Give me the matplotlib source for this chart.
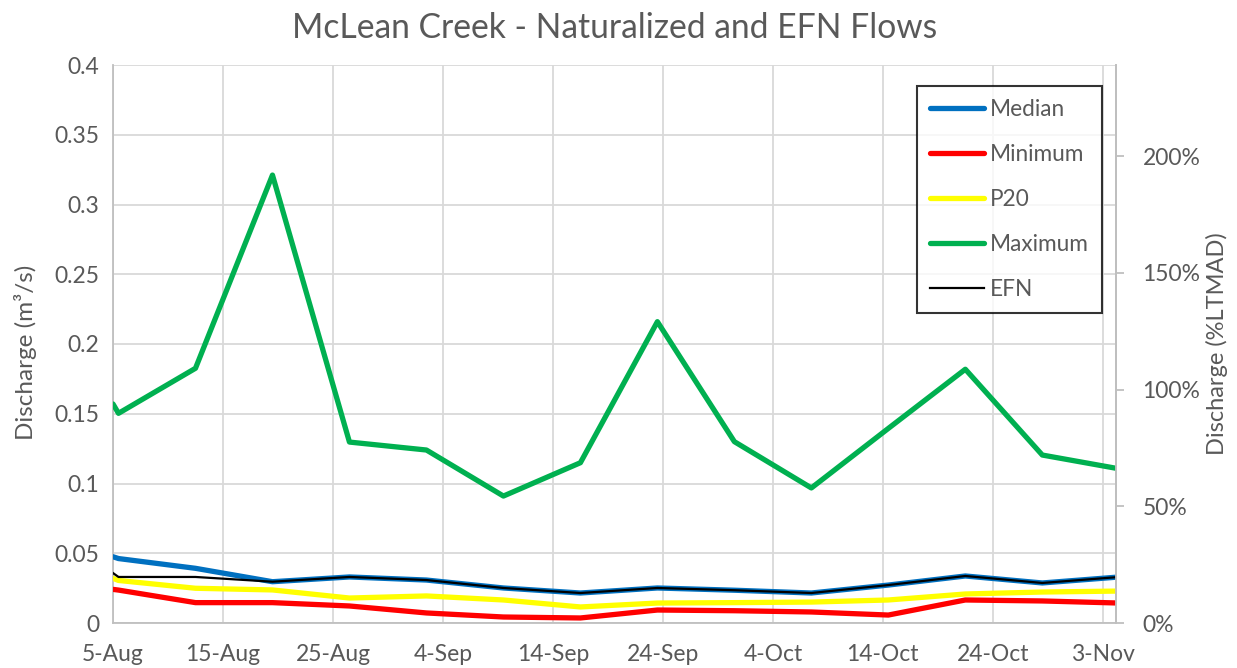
import matplotlib
matplotlib.use("Agg")
import matplotlib.pyplot as plt
from matplotlib.ticker import FuncFormatter

plt.rcParams['font.family'] = ['Lato', 'DejaVu Sans']

# Data: x positions in days after 5-Aug
days = [0, 0.5, 7.5, 14.5, 21.5, 28.5, 35.5, 42.5, 49.5, 56.5, 63.5, 70.5, 77.5, 84.5, 91.5]
median = [0.0475, 0.0462, 0.0392, 0.0296, 0.0330, 0.0308, 0.0251, 0.0215, 0.0251, 0.0235,
          0.0215, 0.0272, 0.0337, 0.0287, 0.0330]
minimum = [0.0241, 0.0236, 0.0146, 0.0146, 0.0122, 0.0072, 0.0043, 0.0036, 0.0093, 0.0088,
           0.0079, 0.0057, 0.0165, 0.0158, 0.0143]
p20 = [0.0320, 0.0305, 0.0249, 0.0237, 0.0179, 0.0194, 0.0165, 0.0115, 0.0143, 0.0146,
       0.0150, 0.0165, 0.0208, 0.0222, 0.0229]
maximum = [0.1570, 0.1503, 0.1826, 0.3211, 0.1297, 0.1240, 0.0910, 0.1149, 0.2160, 0.1300,
           0.0968, 0.1395, 0.1819, 0.1204, 0.1105]
efn = [0.0358, 0.0330, 0.0330, 0.0296, 0.0330, 0.0308, 0.0251, 0.0215, 0.0251, 0.0235,
       0.0215, 0.0272, 0.0337, 0.0287, 0.0330]

tick_days = [0, 10, 20, 30, 40, 50, 60, 70, 80, 90]
tick_labels = ['5-Aug', '15-Aug', '25-Aug', '4-Sep', '14-Sep', '24-Sep', '4-Oct', '14-Oct', '24-Oct', '3-Nov']
ltmad = 0.1673  # m3/s corresponding to 100%

grey = '#595959'
W, H = 1237, 668
fig = plt.figure(figsize=(W / 100, H / 100), dpi=100)
ax = fig.add_axes([113 / W, 45 / H, (1116 - 113) / W, (623 - 65) / H])

ax.plot(days, median, color='#0070C0', lw=3.8, label='Median', solid_capstyle='round', zorder=3)
ax.plot(days, minimum, color='#FF0000', lw=3.8, label='Minimum', solid_capstyle='round', zorder=3)
ax.plot(days, p20, color='#FFFF00', lw=3.8, label='P20', solid_capstyle='round', zorder=3)
ax.plot(days, maximum, color='#00B050', lw=3.8, label='Maximum', solid_capstyle='round', zorder=3)
ax.plot(days, efn, color='black', lw=1.6, label='EFN', zorder=4)

ax.set_xlim(0, 91.2)
ax.set_ylim(0, 0.4)
ax.set_xticks(tick_days)
ax.set_xticklabels(tick_labels)
ax.set_yticks([0, 0.05, 0.1, 0.15, 0.2, 0.25, 0.3, 0.35, 0.4])
ax.yaxis.set_major_formatter(FuncFormatter(lambda v, p: '0' if v == 0 else ('%g' % round(v, 2))))
ax.grid(True, color='#D9D9D9', lw=1.3)
ax.set_axisbelow(True)
ax.tick_params(axis='both', length=0, labelsize=16.5, colors=grey)
ax.tick_params(axis='y', pad=10)
ax.tick_params(axis='x', pad=15)
ax.spines['top'].set_visible(False)
for s in ['left', 'bottom', 'right']:
    ax.spines[s].set_color('#BFBFBF')
    ax.spines[s].set_linewidth(1.3)
ax.set_ylabel('Discharge (m³/s)', fontsize=17.5, color=grey)
ax.yaxis.set_label_coords(-0.076, 0.485)

ax2 = ax.twinx()
ax2.set_ylim(0, 0.4 / ltmad * 100)
ax2.set_yticks([0, 50, 100, 150, 200])
ax2.yaxis.set_major_formatter(FuncFormatter(lambda v, p: '%d%%' % v))
ax2.tick_params(axis='y', length=6, width=1.3, color='#BFBFBF', labelsize=16.5, labelcolor=grey, pad=13)
for s in ['top', 'left', 'bottom']:
    ax2.spines[s].set_visible(False)
ax2.spines['right'].set_color('#BFBFBF')
ax2.spines['right'].set_linewidth(1.3)
ax2.set_ylabel('Discharge (%LTMAD)', fontsize=17, color=grey, labelpad=4)

leg = ax.legend(loc='upper left', bbox_to_anchor=((917 - 113) / (1116 - 113), (623 - 86) / (623 - 65)),
                frameon=True, fancybox=False, edgecolor='black', fontsize=16.3,
                handlelength=2.4, handletextpad=0.25, labelspacing=1.06, borderpad=0.58,
                borderaxespad=0)
leg.get_frame().set_linewidth(1.5)
for t in leg.get_texts():
    t.set_color(grey)
leg.set_zorder(10)

fig.text((113 + 1116) / 2 / W, 1 - 28 / H, 'McLean Creek - Naturalized and EFN Flows',
         ha='center', va='center', fontsize=24.2, color=grey)

fig.savefig('out.png', dpi=100, facecolor='white')
